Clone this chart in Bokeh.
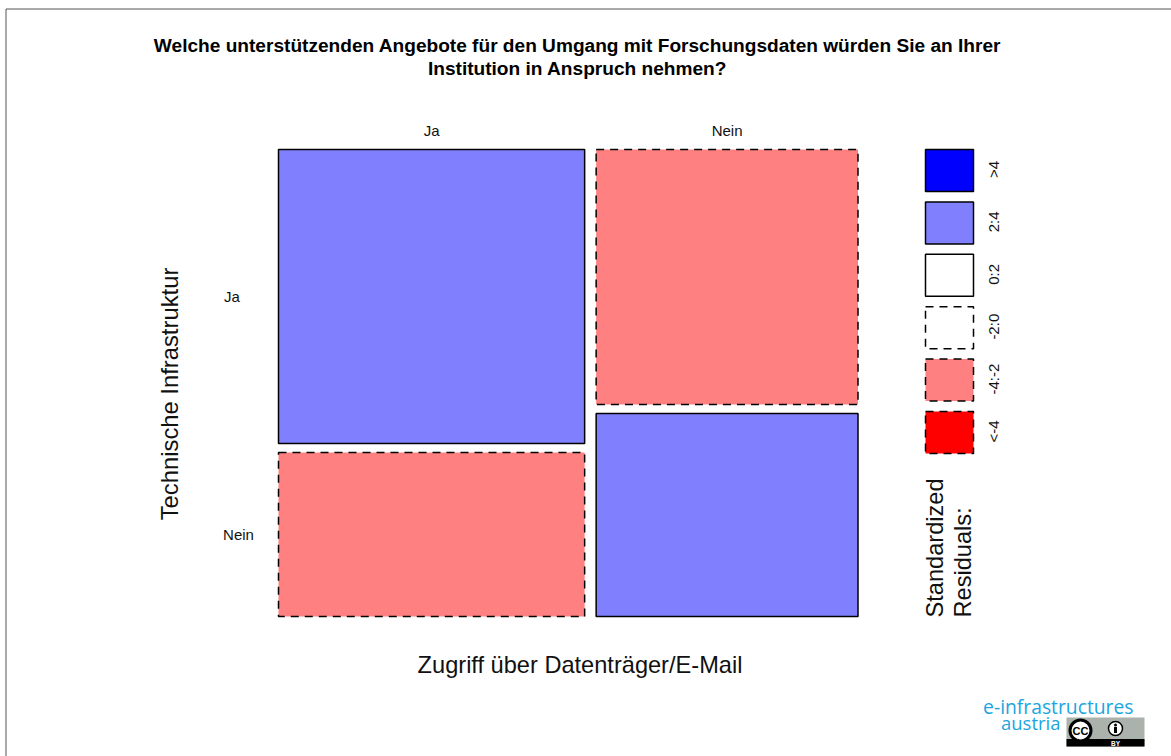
from bokeh.plotting import figure
from bokeh.embed import file_html
from bokeh.resources import INLINE
from bokeh.core.properties import value
from bokeh.models import Range1d

W, H = 1171, 756
FONT = value("Liberation Sans")

title_lines = ["Welche unterstützenden Angebote für den Umgang mit Forschungsdaten würden Sie an Ihrer",
               "Institution in Anspruch nehmen?"]
x_title = "Zugriff über Datenträger/E-Mail"
y_title = "Technische Infrastruktur"
categories = ["Ja", "Nein"]
column_share = [53.9, 46.1]               # % of respondents, Datenträger/E-Mail
row_share_in_ja = [64.2, 35.8]            # % Technische Infrastruktur within "Ja"
row_share_in_nein = [55.7, 44.3]          # % Technische Infrastruktur within "Nein"
residual_class = [["2:4", "-4:-2"], ["-4:-2", "2:4"]]
legend_labels = [">4", "2:4", "0:2", "-2:0", "-4:-2", "<-4"]
legend_colors = ["#0000ff", "#8080ff", "#ffffff", "#ffffff", "#ff8080", "#ff0000"]
legend_dash = ["solid", "solid", "solid", "dashed", "dashed", "dashed"]
legend_title = ["Standardized", "Residuals:"]
logo_lines = ["e-infrastructures", "austria"]

DASH = "8 6"
LW = 1.5
color_of = dict(zip(legend_labels, legend_colors))
dash_of = dict(zip(legend_labels, legend_dash))

p = figure(width=W, height=H, output_backend="svg", toolbar_location=None,
           x_range=Range1d(0, W), y_range=Range1d(H, 0), min_border=0,
           outline_line_color=None, background_fill_color="white")
p.xaxis.visible = False
p.yaxis.visible = False
p.grid.visible = False

# page frame (only left and top edges are in view)
p.line([5.5, 5.5], [H, 8.5], line_color="#555555", line_width=1)
p.line([5.5, W], [8.5, 8.5], line_color="#555555", line_width=1)

# mosaic
X0, Y0 = 278.0, 149.0
TOTAL_W, TOTAL_H = 568.0, 458.0
GAP_X, GAP_Y = 11.5, 9.0
x = X0
for c, (cs, rows) in enumerate(zip(column_share, [row_share_in_ja, row_share_in_nein])):
    w = TOTAL_W * cs / 100
    y = Y0
    for r, rs in enumerate(rows):
        h = TOTAL_H * rs / 100
        cls = residual_class[r][c]
        dash = DASH if dash_of[cls] == "dashed" else "solid"
        p.quad(left=x, right=x + w, top=y, bottom=y + h, fill_color=color_of[cls],
               line_color="black", line_width=LW, line_dash=dash)
        y += h + GAP_Y
    p.text([x + w / 2], [130], text=[categories[c]], text_font=FONT, text_font_size="15px",
           text_align="center", text_baseline="middle", text_color="#111111")
    x += w + GAP_X

p.text([231.5, 238], [296, 534], text=categories, text_font=FONT, text_font_size="15px",
       text_align="center", text_baseline="middle", text_color="#111111")

# titles
p.text([577, 577], [45, 68], text=title_lines, text_font=FONT, text_font_size="19.1px",
       text_font_style="bold", text_align="center", text_baseline="middle", text_color="black")
p.text([579.5], [664], text=[x_title], text_font=FONT, text_font_size="23.6px",
       text_align="center", text_baseline="middle", text_color="#111111")
p.text([169], [393.5], text=[y_title], angle=[90], angle_units="deg", text_font=FONT,
       text_font_size="23.8px", text_align="center", text_baseline="middle", text_color="#111111")

# legend
LX0, LX1 = 925.0, 973.0
LY0, LSTEP, LH = 149.0, 52.4, 42.0
for i, (lab, col, d) in enumerate(zip(legend_labels, legend_colors, legend_dash)):
    top = LY0 + i * LSTEP
    p.quad(left=LX0, right=LX1, top=top, bottom=top + LH, fill_color=col, line_color="black",
           line_width=LW, line_dash=DASH if d == "dashed" else "solid")
    p.text([993], [top + LH / 2 - 1], text=[lab], angle=[90], angle_units="deg", text_font=FONT,
           text_font_size="15px", text_align="center", text_baseline="middle", text_color="#111111")
p.text([934, 962], [617, 617], text=legend_title, angle=[90, 90], angle_units="deg", text_font=FONT,
       text_font_size="23.6px", text_align="left", text_baseline="middle", text_color="#111111")

# logo
LOGO_BLUE = "#1ba5e0"
p.text([1133], [705.5], text=[logo_lines[0]], text_font=value("Open Sans"), text_font_size="19.3px",
       text_align="right", text_baseline="middle", text_color=LOGO_BLUE)
p.text([1060], [721.5], text=[logo_lines[1]], text_font=value("Open Sans"), text_font_size="18.5px",
       text_align="right", text_baseline="middle", text_color=LOGO_BLUE)
p.quad(left=1066, right=1144, top=717, bottom=746, fill_color="#aab2ab", line_color=None)
p.quad(left=1066, right=1144, top=738.5, bottom=746, fill_color="black", line_color=None)
p.scatter([1080], [730], size=21, fill_color="white", line_color="black", line_width=3)
p.text([1080], [730], text=["CC"], text_font=FONT, text_font_size="11px", text_font_style="bold",
       text_align="center", text_baseline="middle", text_color="black")
p.scatter([1115], [728], size=14, fill_color="white", line_color="black", line_width=1.5)
p.scatter([1115], [724.5], size=3, fill_color="black", line_color=None)
p.quad(left=1113.5, right=1116.5, top=726.5, bottom=732.5, fill_color="black", line_color=None)
p.text([1115], [742.5], text=["BY"], text_font=FONT, text_font_size="6.5px", text_font_style="bold",
       text_align="center", text_baseline="middle", text_color="white")

open("out.html", "w").write(file_html(p, INLINE))
